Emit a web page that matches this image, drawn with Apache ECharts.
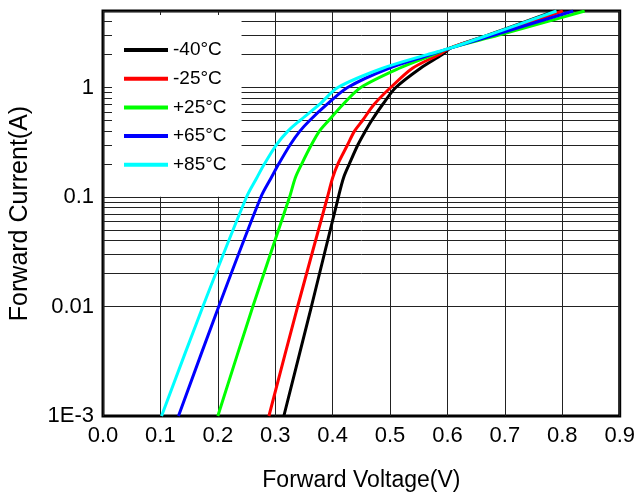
<!DOCTYPE html>
<html><head><meta charset="utf-8">
<script src="https://cdn.jsdelivr.net/npm/echarts@6/dist/echarts.min.js"></script>
<style>html,body{margin:0;padding:0;background:#fff}#c{width:638px;height:497px}</style>
</head><body><div id="c"></div>
<script>
// Forward current levels (A) shared by all curves
const currentLevels = [0.001, 0.01, 0.1, 0.15, 0.2, 0.3, 0.4, 0.5, 0.7, 1, 1.5, 2, 2.3, 3, 5];
// Forward voltage (V) at each current level, per temperature
const voltsMinus40 = [0.315, 0.363, 0.410, 0.419, 0.429, 0.444, 0.457, 0.468, 0.487, 0.510, 0.553, 0.591, 0.606, 0.669, 0.787];
const voltsMinus25 = [0.289, 0.339, 0.391, 0.400, 0.409, 0.426, 0.438, 0.452, 0.472, 0.501, 0.539, 0.585, 0.605, 0.674, 0.801];
const voltsPlus25  = [0.200, 0.261, 0.325, 0.335, 0.346, 0.363, 0.377, 0.393, 0.418, 0.449, 0.516, 0.576, 0.605, 0.688, 0.839];
const voltsPlus65  = [0.1315, 0.2016, 0.275, 0.293, 0.306, 0.326, 0.343, 0.360, 0.390, 0.426, 0.498, 0.571, 0.606, 0.680, 0.819];
const voltsPlus85  = [0.102, 0.174, 0.250, 0.268, 0.281, 0.302, 0.322, 0.343, 0.377, 0.409, 0.487, 0.565, 0.606, 0.670, 0.790];

const seriesNames = ['-40°C', '-25°C', '+25°C', '+65°C', '+85°C'];
const seriesVolts = [voltsMinus40, voltsMinus25, voltsPlus25, voltsPlus65, voltsPlus85];
const seriesColors = ['#000000', '#ff0000', '#00ff00', '#0000ff', '#00ffff'];

const xTickValues = [0, 0.1, 0.2, 0.3, 0.4, 0.5, 0.6, 0.7, 0.8, 0.9];
const xTickLabels = ['0.0', '0.1', '0.2', '0.3', '0.4', '0.5', '0.6', '0.7', '0.8', '0.9'];
const yTickValues = [0.001, 0.01, 0.1, 1];
const yTickLabels = ['1E-3', '0.01', '0.1', '1'];
const yMin = 0.001, yMax = 5;

// horizontal log grid lines (1..9 x decade) within range
const hGrid = [];
for (let e = -3; e <= 0; e++) {
  for (let d = 1; d <= 9; d++) {
    const v = d * Math.pow(10, e);
    if (v <= yMax + 1e-9) hGrid.push(v);
  }
}

const FONT = 'Liberation Sans, Arial, sans-serif';

function labelFor(values, labels, v) {
  for (let i = 0; i < values.length; i++) {
    if (Math.abs(v - values[i]) < values[i] * 1e-6 + 1e-9) return labels[i];
  }
  return '';
}

const series = [{
  type: 'line', data: [], z: 1, silent: true,
  markLine: {
    z: 1, silent: true, symbol: ['none', 'none'], animation: false,
    label: { show: false },
    lineStyle: { color: '#222', width: 1, type: 'solid' },
    data: hGrid.map(v => ({ yAxis: v }))
  }
}];
seriesNames.forEach((n, i) => {
  series.push({
    name: n, type: 'line', z: 3, showSymbol: false, smooth: 0.3,
    lineStyle: { color: seriesColors[i], width: 3 },
    itemStyle: { color: seriesColors[i] },
    data: seriesVolts[i].map((v, k) => [v, currentLevels[k]])
  });
});

const chart = echarts.init(document.getElementById('c'));
chart.setOption({
  animation: false,
  backgroundColor: '#fff',
  grid: { left: 102, right: 16, top: 11, bottom: 79, show: true, borderColor: '#000', borderWidth: 3, backgroundColor: 'transparent' },
  legend: {
    z: 10,
    data: seriesNames, orient: 'vertical', left: 112, top: 15,
    backgroundColor: '#fff', padding: [25, 15, 22, 12],
    itemWidth: 44, itemHeight: 4, itemGap: 8.7, icon: 'rect',
    textStyle: { fontSize: 19, fontFamily: FONT, color: '#000', lineHeight: 20 }
  },
  xAxis: {
    type: 'value', min: 0, max: 0.9, interval: 0.1,
    name: 'Forward Voltage(V)', nameLocation: 'middle', nameGap: 53,
    nameTextStyle: { fontSize: 23, fontFamily: FONT, color: '#000' },
    axisLine: { show: false }, axisTick: { show: false },
    axisLabel: { fontSize: 22, fontFamily: FONT, color: '#000', margin: 9,
      formatter: v => labelFor(xTickValues, xTickLabels, v) },
    splitLine: { show: true, lineStyle: { color: '#222', width: 1 } }
  },
  yAxis: {
    type: 'log', logBase: 10, min: yMin, max: yMax,
    name: 'Forward Current(A)', nameLocation: 'middle', nameGap: 70,
    nameTextStyle: { fontSize: 25, fontFamily: FONT, color: '#000' },
    axisLine: { show: false }, axisTick: { show: false },
    axisLabel: { fontSize: 22, fontFamily: FONT, color: '#000', margin: 9,
      showMaxLabel: false,
      formatter: v => labelFor(yTickValues, yTickLabels, v) },
    splitLine: { show: false }
  },
  series: series
});
</script></body></html>
